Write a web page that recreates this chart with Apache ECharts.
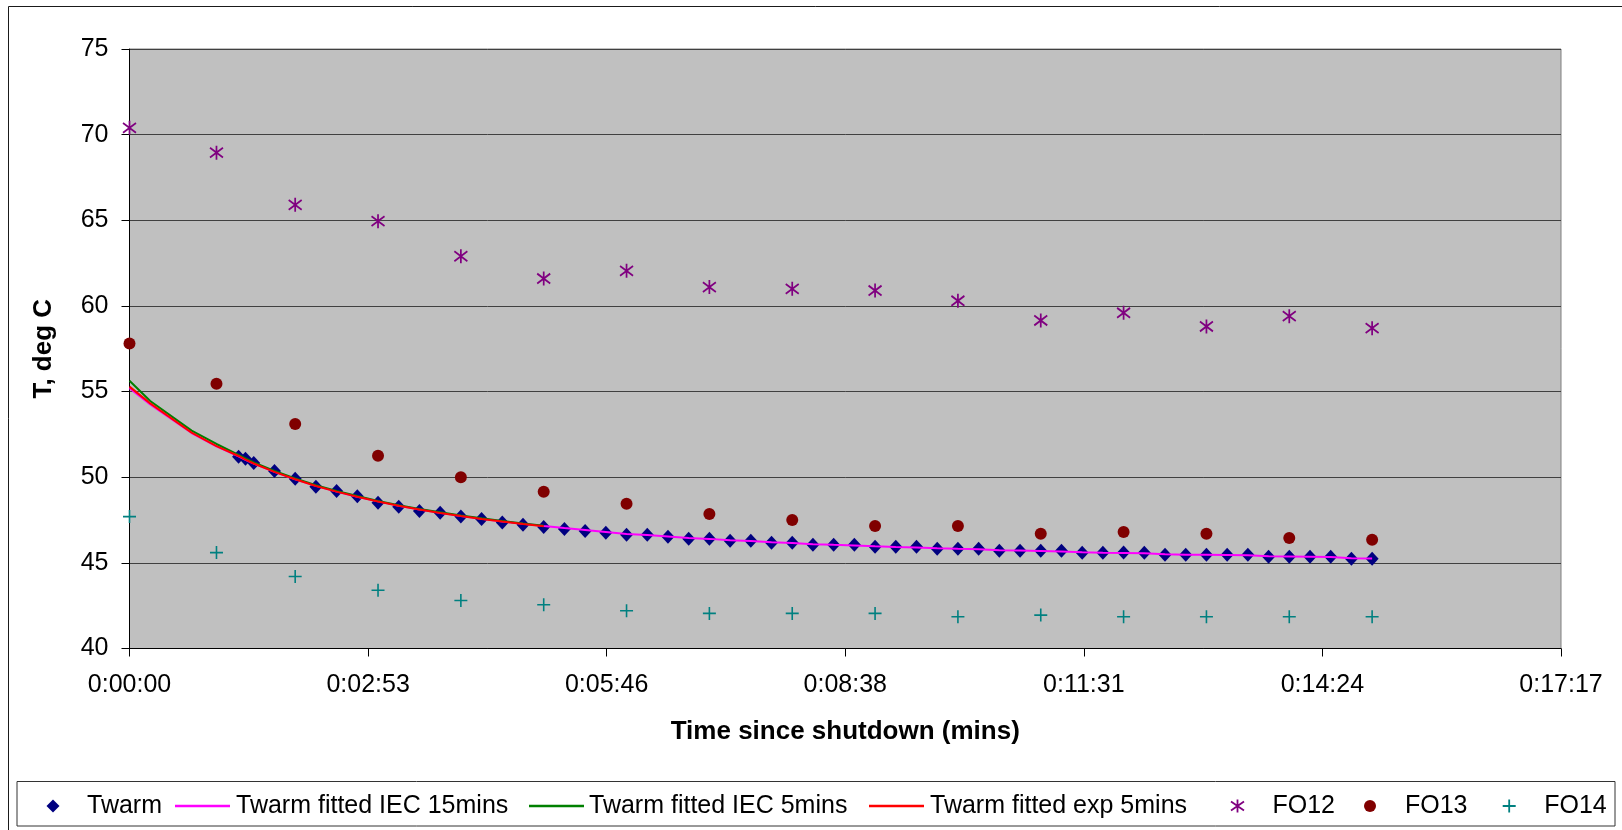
<!DOCTYPE html>
<html>
<head>
<meta charset="utf-8">
<script src="https://cdn.jsdelivr.net/npm/echarts@6/dist/echarts.min.js"></script>
<style>
  html, body { margin: 0; padding: 0; background: #ffffff; }
  #coolChart { width: 1622px; height: 830px; }
</style>
</head>
<body>
<div id="coolChart"></div>
<script>
  // times are seconds since shutdown
  const foTimes = [0, 63, 120, 180, 240, 300, 360, 420, 480, 540, 600, 660, 720, 780, 840, 900];
  const fo12 = [70.4, 68.95, 65.9, 64.95, 62.9, 61.6, 62.05, 61.1, 61.0, 60.9, 60.3, 59.15, 59.6, 58.8, 59.4, 58.7];
  const fo13 = [57.8, 55.45, 53.1, 51.25, 50.0, 49.15, 48.45, 47.85, 47.5, 47.15, 47.15, 46.7, 46.8, 46.7, 46.45, 46.35];
  const fo14 = [47.7, 45.6, 44.2, 43.4, 42.8, 42.55, 42.2, 42.05, 42.05, 42.05, 41.85, 41.95, 41.85, 41.85, 41.85, 41.85];

  const twarmTimes = [79, 84, 90, 105, 120, 135, 150, 165, 180, 195, 210, 225, 240, 255, 270, 285, 300,
    315, 330, 345, 360, 375, 390, 405, 420, 435, 450, 465, 480, 495, 510, 525, 540, 555, 570, 585, 600,
    615, 630, 645, 660, 675, 690, 705, 720, 735, 750, 765, 780, 795, 810, 825, 840, 855, 870, 885, 900];
  const twarm = [51.2, 51.08, 50.83, 50.36, 49.91, 49.45, 49.2, 48.89, 48.51, 48.28, 48.03, 47.93, 47.7, 47.56, 47.35, 47.23, 47.09,
    46.98, 46.86, 46.76, 46.64, 46.64, 46.53, 46.41, 46.41, 46.29, 46.29, 46.18, 46.18, 46.06, 46.06, 46.06, 45.94, 45.94, 45.94, 45.83, 45.83,
    45.83, 45.71, 45.71, 45.71, 45.71, 45.59, 45.59, 45.6, 45.59, 45.48, 45.48, 45.48, 45.48, 45.48, 45.36, 45.36, 45.36, 45.36, 45.24, 45.24];

  const fitIec15Times = [0, 15, 45, 63, 79, 84, 90, 105, 120, 135, 150, 165, 180, 195, 210, 225, 240, 255, 270, 285, 300,
    315, 330, 345, 360, 375, 390, 405, 420, 435, 450, 465, 480, 495, 510, 525, 540, 555, 570, 585, 600,
    615, 630, 645, 660, 675, 690, 705, 720, 735, 750, 765, 780, 795, 810, 825, 840, 855, 870, 885, 900];
  const fitIec15 = [55.19, 54.25, 52.58, 51.8, 51.22, 51.02, 50.8, 50.31, 49.88, 49.5, 49.16, 48.86, 48.59, 48.34, 48.12, 47.92, 47.74, 47.57, 47.42, 47.28, 47.15,
    47.03, 46.92, 46.8, 46.68, 46.62, 46.54, 46.45, 46.4, 46.32, 46.28, 46.2, 46.16, 46.09, 46.05, 46.02, 45.97, 45.93, 45.9, 45.85, 45.82,
    45.8, 45.74, 45.72, 45.69, 45.66, 45.62, 45.59, 45.58, 45.56, 45.5, 45.48, 45.47, 45.46, 45.45, 45.38, 45.37, 45.36, 45.34, 45.27, 45.25];

  const fit5Times = [0, 15, 45, 63, 79, 84, 90, 105, 120, 135, 150, 165, 180, 195, 210, 225, 240, 255, 270, 285, 300];
  const fitIec5 = [55.63, 54.45, 52.72, 51.94, 51.3, 51.1, 50.86, 50.36, 49.93, 49.53, 49.2, 48.9, 48.61, 48.36, 48.14, 47.95, 47.77, 47.6, 47.45, 47.3, 47.17];
  const fitExp5 = [55.29, 54.31, 52.6, 51.82, 51.24, 51.03, 50.8, 50.31, 49.88, 49.49, 49.16, 48.86, 48.58, 48.33, 48.11, 47.91, 47.73, 47.56, 47.41, 47.27, 47.14];

  const pairUp = (xs, ys) => xs.map((x, i) => [x, ys[i]]);

  const pad2 = n => (n < 10 ? '0' : '') + n;
  const hms = v => {
    const s = Math.round(v);
    return Math.floor(s / 3600) + ':' + pad2(Math.floor((s % 3600) / 60)) + ':' + pad2(s % 60);
  };

  const FONT = "'Liberation Sans', Arial, sans-serif";
  const asterisk = 'path://M10,0L10,20M0,3L20,17M0,17L20,3';
  const plus = 'path://M0,10L20,10M10,0L10,20';

  // every legend entry is placed on its own so the spacing follows the picture
  function legendItem(name, left, iconSize, icon, style, textPad) {
    return {
      data: [name],
      left: left,
      top: 793.5,
      padding: 0,
      itemWidth: iconSize[0],
      itemHeight: iconSize[1],
      icon: icon,
      itemStyle: style,
      selectedMode: false,
      textStyle: {
        fontFamily: FONT,
        fontSize: 25,
        color: '#000000',
        padding: [0, 0, 0, textPad]
      }
    };
  }

  const myChart = echarts.init(document.getElementById('coolChart'));
  const chartOption = {
    animation: false,
    backgroundColor: '#ffffff',
    graphic: [
      {
        type: 'rect',
        shape: { x: 8.5, y: 6.5, width: 1700, height: 900 },
        style: { fill: 'none', stroke: '#1a1a1a', lineWidth: 1 },
        silent: true
      },
      {
        type: 'rect',
        shape: { x: 17, y: 781.5, width: 1598, height: 44.5 },
        style: { fill: '#ffffff', stroke: '#333333', lineWidth: 1 },
        silent: true
      }
    ],
    grid: {
      left: 129.5,
      top: 49,
      width: 1431.5,
      height: 599.5,
      show: true,
      backgroundColor: '#c0c0c0',
      borderColor: '#808080',
      borderWidth: 1
    },
    xAxis: {
      type: 'value',
      min: 0,
      max: 1036.8,
      interval: 172.8,
      name: 'Time since shutdown (mins)',
      nameLocation: 'middle',
      nameGap: 70,
      nameTextStyle: { fontFamily: FONT, fontSize: 26, fontWeight: 'bold', color: '#000000' },
      axisLine: { show: true, onZero: false, lineStyle: { color: '#000000', width: 1 } },
      axisTick: { show: true, inside: false, length: 8, lineStyle: { color: '#000000' } },
      axisLabel: { fontFamily: FONT, fontSize: 25, color: '#000000', margin: 24, formatter: hms },
      splitLine: { show: false }
    },
    yAxis: {
      type: 'value',
      min: 40,
      max: 75,
      interval: 5,
      name: 'T, deg C',
      nameLocation: 'middle',
      nameGap: 73,
      nameTextStyle: { fontFamily: FONT, fontSize: 26, fontWeight: 'bold', color: '#000000' },
      axisLine: { show: true, onZero: false, lineStyle: { color: '#000000', width: 1 } },
      axisTick: { show: true, inside: false, length: 8, lineStyle: { color: '#000000' } },
      axisLabel: { fontFamily: FONT, fontSize: 25, color: '#000000', margin: 21 },
      splitLine: { show: true, lineStyle: { color: '#404040', width: 1 } }
    },
    legend: [
      legendItem('Twarm', 46.5, [13, 13], 'diamond', { color: '#000080' }, 22.5),
      legendItem('Twarm fitted IEC 15mins', 175, [55, 2.5], 'rect', { color: '#ff00ff' }, 1),
      legendItem('Twarm fitted IEC 5mins', 529, [55, 2.5], 'rect', { color: '#008000' }, 0),
      legendItem('Twarm fitted exp 5mins', 869, [55, 2.5], 'rect', { color: '#ff0000' }, 1),
      legendItem('FO12', 1228.5, [13, 14], asterisk, { color: 'none', borderColor: '#800080', borderWidth: 1.8 }, 23.5),
      legendItem('FO13', 1364, [12, 12], 'circle', { color: '#800000' }, 24),
      legendItem('FO14', 1500.2, [13, 13], plus, { color: 'none', borderColor: '#008080', borderWidth: 1.8 }, 23.5)
    ],
    series: [
      {
        name: 'Twarm fitted IEC 15mins',
        type: 'line',
        color: '#ff00ff',
        symbol: 'none',
        lineStyle: { color: '#ff00ff', width: 2 },
        data: pairUp(fitIec15Times, fitIec15)
      },
      {
        name: 'Twarm fitted IEC 5mins',
        type: 'line',
        color: '#008000',
        symbol: 'none',
        lineStyle: { color: '#008000', width: 2 },
        data: pairUp(fit5Times, fitIec5)
      },
      {
        name: 'Twarm fitted exp 5mins',
        type: 'line',
        color: '#ff0000',
        symbol: 'none',
        lineStyle: { color: '#ff0000', width: 2 },
        data: pairUp(fit5Times, fitExp5)
      },
      {
        name: 'Twarm',
        type: 'scatter',
        symbol: 'diamond',
        symbolSize: [13, 14],
        itemStyle: { color: '#000080', opacity: 1 },
        data: pairUp(twarmTimes, twarm)
      },
      {
        name: 'FO12',
        type: 'scatter',
        symbol: asterisk,
        symbolSize: [13, 14],
        itemStyle: { color: 'none', borderColor: '#800080', borderWidth: 1.8, opacity: 1 },
        data: pairUp(foTimes, fo12)
      },
      {
        name: 'FO13',
        type: 'scatter',
        symbol: 'circle',
        symbolSize: 12,
        itemStyle: { color: '#800000', opacity: 1 },
        data: pairUp(foTimes, fo13)
      },
      {
        name: 'FO14',
        type: 'scatter',
        symbol: plus,
        symbolSize: 13,
        itemStyle: { color: 'none', borderColor: '#008080', borderWidth: 1.6, opacity: 1 },
        data: pairUp(foTimes, fo14)
      }
    ]
  };
  myChart.setOption(chartOption);
</script>
</body>
</html>
